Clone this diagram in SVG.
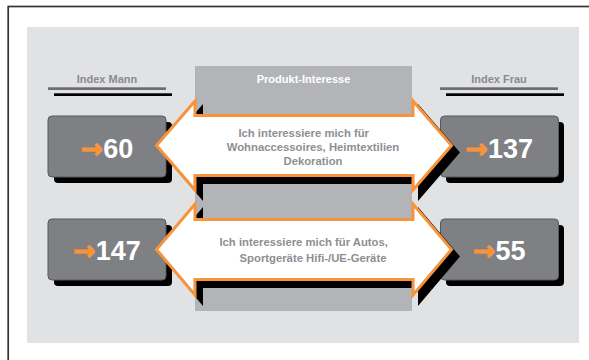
<svg xmlns="http://www.w3.org/2000/svg" width="589" height="360" viewBox="0 0 589 360">
<defs>
<style>
.lbl{font-family:"Liberation Sans",Arial,sans-serif;font-weight:bold;font-size:11px;fill:#8a8b8e;text-anchor:middle}
.atx{font-family:"Liberation Sans",Arial,sans-serif;font-weight:bold;font-size:11.3px;fill:#8e8f92;text-anchor:middle}
.ptx{font-family:"Liberation Sans",Arial,sans-serif;font-weight:bold;font-size:11px;fill:#ffffff;text-anchor:middle}
.num{font-family:"Liberation Sans",Arial,sans-serif;font-weight:bold;font-size:27px;fill:#ffffff;text-anchor:middle}
.ar{font-family:"DejaVu Sans",sans-serif;font-weight:bold;font-size:27px;fill:#f7943b;stroke:#f7943b;stroke-width:0.8}
.box{fill:#7f8084;stroke:#57585b;stroke-width:1}
.shd{fill:#000000}
.dbl{fill:#ffffff;stroke:#f7943b;stroke-width:3;stroke-linejoin:miter}
.dsh{fill:#000000;stroke:#000000;stroke-width:3}
</style>
</defs>
<rect x="0" y="0" width="589" height="360" fill="#ffffff"/>
<rect x="8.2" y="6.5" width="600" height="400" fill="none" stroke="#333333" stroke-width="1.7"/>
<rect x="27" y="27" width="552" height="316" fill="#e1e2e4"/>

<g id="header-mann">
<text class="lbl" x="107" y="83.3">Index Mann</text>
<rect x="48" y="87.3" width="118" height="2.7" fill="#6d6e71"/>
<rect x="54" y="93.3" width="118" height="2.7" fill="#000000"/>
</g>
<g id="header-frau">
<text class="lbl" x="499" y="83.3">Index Frau</text>
<rect x="440" y="87.3" width="118" height="2.7" fill="#6d6e71"/>
<rect x="446" y="93.3" width="118" height="2.7" fill="#000000"/>
</g>

<g id="mann-60">
<rect class="shd" x="54" y="122" width="118" height="61" rx="4"/>
<rect class="box" x="48" y="116" width="118" height="61" rx="4"/>
<text class="num" x="107" y="157.5"><tspan class="ar">→</tspan>60</text>
</g>
<g id="frau-137">
<rect class="shd" x="446" y="122" width="118" height="61" rx="4"/>
<rect class="box" x="440.5" y="116" width="118" height="61" rx="4"/>
<text class="num" x="499.3" y="157.5"><tspan class="ar">→</tspan>137</text>
</g>
<g id="mann-147">
<rect class="shd" x="54" y="225" width="118" height="61" rx="4"/>
<rect class="box" x="48" y="219" width="118" height="61" rx="4"/>
<text class="num" x="107" y="259.5"><tspan class="ar">→</tspan>147</text>
</g>
<g id="frau-55">
<rect class="shd" x="446" y="225" width="118" height="61" rx="4"/>
<rect class="box" x="440.5" y="219" width="118" height="61" rx="4"/>
<text class="num" x="499.3" y="259.5"><tspan class="ar">→</tspan>55</text>
</g>

<g id="produkt-interesse">
<rect x="195" y="66" width="217" height="245" fill="#b3b4b8"/>
<text class="ptx" x="303.5" y="82.7">Produkt-Interesse</text>
</g>

<g id="connectors">
<g id="arrow-wohn">
<path class="dsh" transform="translate(6.5,7)" d="M156.5,145.5 L195,101 L195,115.5 L413,115.5 L413,101 L451.5,145.5 L413,190 L413,175.5 L195,175.5 L195,190 Z"/>
<path class="dbl" d="M156.5,145.5 L195,101 L195,115.5 L413,115.5 L413,101 L451.5,145.5 L413,190 L413,175.5 L195,175.5 L195,190 Z"/>
<text class="atx" x="303.7" y="136.6">Ich interessiere mich für</text>
<text class="atx" x="313" y="151">Wohnaccessoires, Heimtextilien</text>
<text class="atx" x="313" y="165.3">Dekoration</text>
</g>
<g id="arrow-autos">
<path class="dsh" transform="translate(6.5,7)" d="M156.5,249.5 L195,204 L195,219.5 L413,219.5 L413,204 L451.5,249.5 L413,295 L413,279.5 L195,279.5 L195,295 Z"/>
<path class="dbl" d="M156.5,249.5 L195,204 L195,219.5 L413,219.5 L413,204 L451.5,249.5 L413,295 L413,279.5 L195,279.5 L195,295 Z"/>
<text class="atx" x="303.7" y="246">Ich interessiere mich für Autos,</text>
<text class="atx" x="313" y="261.6">Sportgeräte Hifi-/UE-Geräte</text>
</g>
</g>
</svg>
